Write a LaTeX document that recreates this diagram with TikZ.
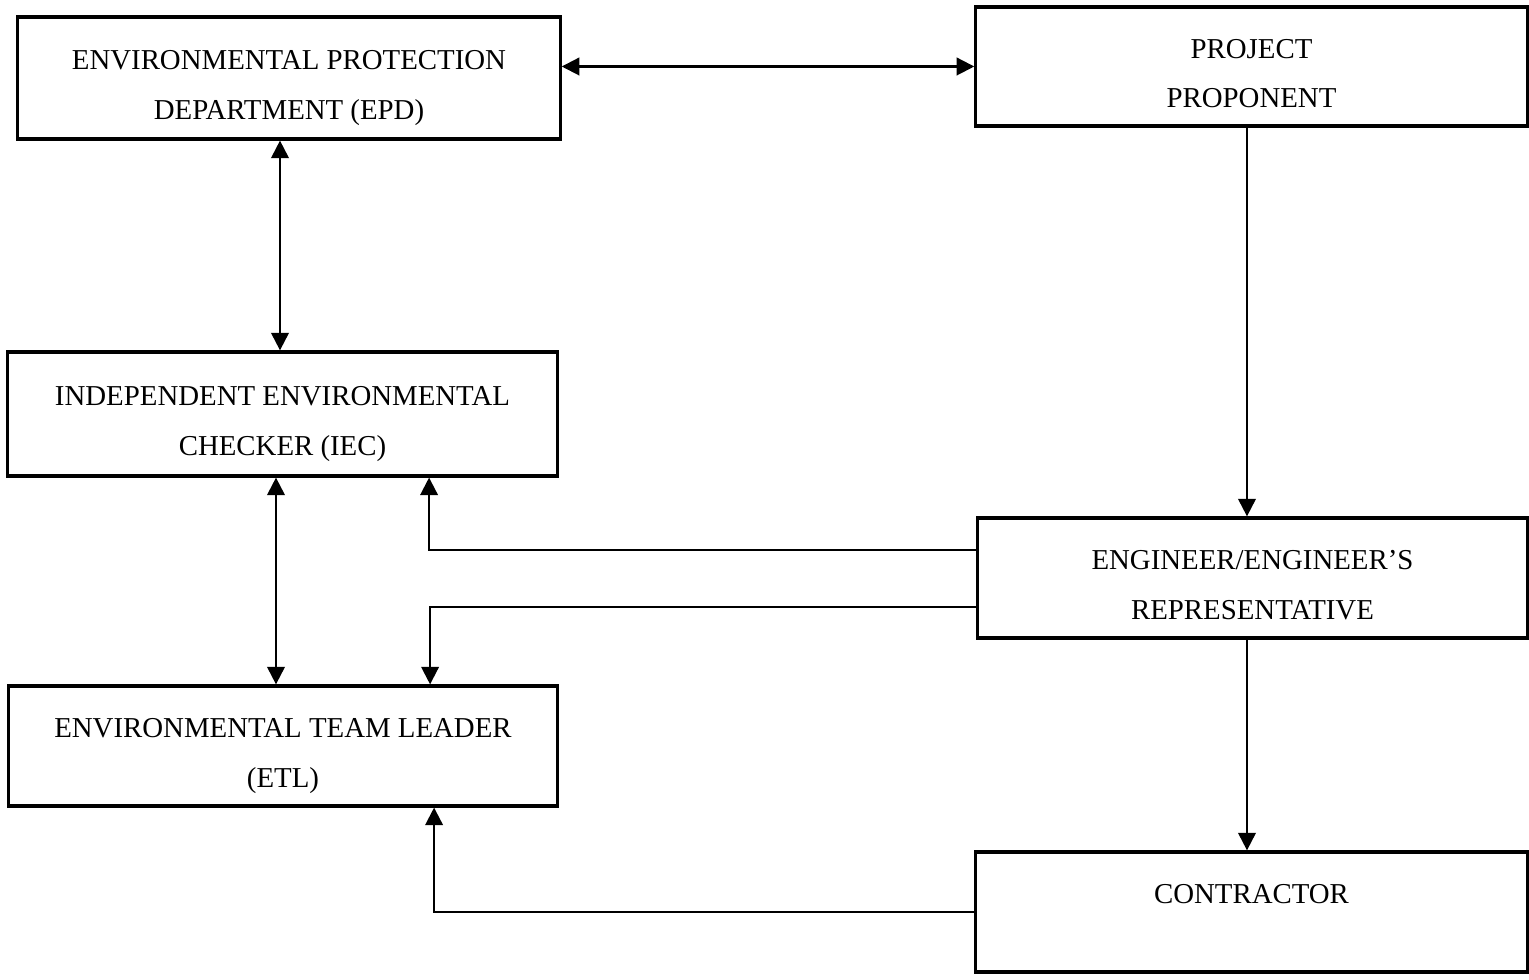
\documentclass[tikz,border=0pt]{standalone}
\usepackage{fontspec}
\setmainfont{Liberation Serif}
\usetikzlibrary{arrows.meta}
\usetikzlibrary{backgrounds,calc}
\pgfdeclarelayer{edgelayer}
\pgfdeclarelayer{nodelayer}
\pgfsetlayers{background,edgelayer,nodelayer,main}
\tikzstyle{box}=[draw=black,line width=0.9pt,fill=white,align=center,minimum width=5.49cm,minimum height=1.2cm,inner sep=0pt,text depth=0pt,text height=23.4pt,font=\fontsize{8.2}{14.1}\selectfont]
\tikzstyle{link}=[line width=0.6pt]
\tikzstyle{diredge}=[link,-{Triangle[length=5pt,width=5pt]}]
\tikzstyle{bidiredge}=[link,{Triangle[length=5pt,width=5pt]}-{Triangle[length=5pt,width=5pt]}]

\begin{document}
\begin{tikzpicture}[x=0.01cm,y=-0.01cm]
	\useasboundingbox (0,0) rectangle (1529,980);
	\begin{pgfonlayer}{nodelayer}
		\node [style=box,minimum width=5.42cm,minimum height=1.22cm] (epd) at (289, 78) {ENVIRONMENTAL PROTECTION\\DEPARTMENT (EPD)};
		\node [style=box,minimum width=5.51cm,minimum height=1.19cm] (pp) at (1251.5, 66.5) {PROJECT\\PROPONENT};
		\node [style=box,minimum height=1.24cm] (iec) at (282.5, 414) {INDEPENDENT ENVIRONMENTAL\\CHECKER (IEC)};
		\node [style=box] (eng) at (1252.5, 578) {ENGINEER/ENGINEER’S\\REPRESENTATIVE};
		\node [style=box,minimum width=5.48cm] (etl) at (283, 746) {ENVIRONMENTAL TEAM LEADER\\(ETL)};
		\node [style=box,minimum width=5.51cm] (con) at (1251.5, 912) {CONTRACTOR\\~};
	\end{pgfonlayer}
	\begin{pgfonlayer}{edgelayer}
		\draw [style=bidiredge] (epd.east |- pp.west) to (pp.west);
		\draw [style=bidiredge] ([xshift=-0.025cm]iec.north |- epd.south) to ([xshift=-0.025cm]iec.north);
		\draw [style=diredge] ([xshift=-0.045cm]pp.south) to ([xshift=-0.045cm]pp.south |- eng.north);
		\draw [style=bidiredge] ([xshift=-0.065cm]iec.south) to ([xshift=-0.065cm]iec.south |- etl.north);
		\draw [style=diredge] ([yshift=0.28cm]eng.west) -| ([xshift=1.465cm]iec.south);
		\draw [style=diredge] ([yshift=-0.29cm]eng.west) -| ([xshift=1.47cm]etl.north);
		\draw [style=diredge] ([xshift=-0.055cm]eng.south) to ([xshift=-0.055cm]eng.south |- con.north);
		\draw [style=diredge] (con.west) -| ([xshift=1.51cm]etl.south);
	\end{pgfonlayer}
\end{tikzpicture}
\end{document}
